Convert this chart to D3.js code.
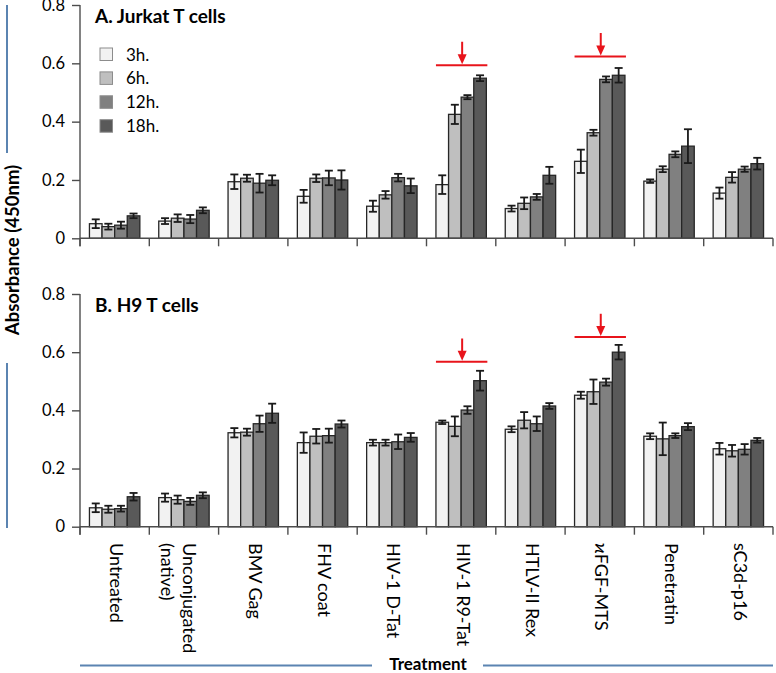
<!DOCTYPE html>
<html>
<head>
<meta charset="utf-8">
<script src="https://cdn.jsdelivr.net/npm/d3@7"></script>
<style>
  html, body { margin: 0; padding: 0; background: #fff; }
  svg { display: block; }
  text { font-family: Lato, "Open Sans", sans-serif; fill: #000; }
</style>
</head>
<body>
<svg id="chart" width="776" height="673"></svg>
<script>
// ---------------- data ----------------
const categories = ["Untreated", "Unconjugated|(native)", "BMV Gag", "FHV coat", "HIV-1 D-Tat",
  "HIV-1 R9-Tat", "HTLV-II Rex", "ϰFGF-MTS", "Penetratin", "sC3d-p16"];
const seriesNames = ["3h.", "6h.", "12h.", "18h."];
const seriesColors = ["#f2f2f2", "#bfbfbf", "#808080", "#595959"];
const yTicks = [0, 0.2, 0.4, 0.6, 0.8];

const jurkatMeans = [
  [0.050, 0.040, 0.045, 0.077],
  [0.059, 0.069, 0.066, 0.096],
  [0.194, 0.206, 0.189, 0.199],
  [0.144, 0.206, 0.207, 0.200],
  [0.110, 0.149, 0.208, 0.180],
  [0.184, 0.425, 0.484, 0.549],
  [0.102, 0.120, 0.142, 0.216],
  [0.264, 0.362, 0.545, 0.559],
  [0.196, 0.237, 0.288, 0.316],
  [0.155, 0.209, 0.237, 0.256]
];
const jurkatErrors = [
  [0.015, 0.010, 0.012, 0.008],
  [0.010, 0.013, 0.014, 0.010],
  [0.025, 0.012, 0.032, 0.017],
  [0.022, 0.013, 0.025, 0.033],
  [0.019, 0.013, 0.013, 0.025],
  [0.032, 0.033, 0.007, 0.010],
  [0.010, 0.020, 0.010, 0.029],
  [0.040, 0.010, 0.010, 0.025],
  [0.006, 0.010, 0.010, 0.058],
  [0.019, 0.018, 0.009, 0.020]
];
const h9Means = [
  [0.065, 0.060, 0.062, 0.103],
  [0.100, 0.093, 0.087, 0.108],
  [0.323, 0.325, 0.354, 0.390],
  [0.289, 0.311, 0.313, 0.353],
  [0.289, 0.289, 0.292, 0.307],
  [0.359, 0.345, 0.401, 0.502],
  [0.335, 0.366, 0.354, 0.415],
  [0.452, 0.464, 0.497, 0.600],
  [0.311, 0.302, 0.313, 0.344],
  [0.268, 0.261, 0.266, 0.297]
];
const h9Errors = [
  [0.015, 0.012, 0.010, 0.013],
  [0.014, 0.014, 0.012, 0.010],
  [0.016, 0.012, 0.028, 0.033],
  [0.035, 0.025, 0.024, 0.012],
  [0.010, 0.010, 0.025, 0.015],
  [0.006, 0.034, 0.013, 0.034],
  [0.010, 0.028, 0.025, 0.010],
  [0.012, 0.042, 0.012, 0.025],
  [0.010, 0.056, 0.008, 0.012],
  [0.020, 0.020, 0.018, 0.008]
];
// highlight markers: category, level of red line, top of arrow (absorbance units)
const jurkatMarks = [
  { category: "HIV-1 R9-Tat", line: 0.593, top: 0.674 },
  { category: "ϰFGF-MTS", line: 0.623, top: 0.704 }
];
const h9Marks = [
  { category: "HIV-1 R9-Tat", line: 0.567, top: 0.647 },
  { category: "ϰFGF-MTS", line: 0.652, top: 0.732 }
];

// ---------------- layout ----------------
const svg = d3.select("#chart");
const xLeft = 80, xRight = 773;
const x0 = d3.scaleBand().domain(categories).range([xLeft, xRight]).paddingInner(0).paddingOuter(0);
const x1 = d3.scaleBand().domain(seriesNames).range([0, x0.bandwidth()]).paddingInner(0).paddingOuter(0.75);
const axisColor = "#4d4d4d";

function drawPanel(title, means, errors, marks, yTop, yBottom, showLegend) {
  const y = d3.scaleLinear().domain([0, 0.8]).range([yBottom, yTop]);
  const g = svg.append("g");

  const groups = g.selectAll("g.cat").data(categories).join("g")
    .attr("transform", c => `translate(${x0(c)},0)`);
  groups.each(function (c, ci) {
    const gg = d3.select(this);
    const rows = seriesNames.map((s, si) => ({ s, si, v: means[ci][si], e: errors[ci][si] }));
    gg.selectAll("rect").data(rows).join("rect")
      .attr("x", d => x1(d.s))
      .attr("y", d => y(d.v))
      .attr("width", x1.bandwidth())
      .attr("height", d => y(0) - y(d.v))
      .attr("fill", d => seriesColors[d.si])
      .attr("stroke", "#262626")
      .attr("stroke-width", 1.3);
    const eb = gg.selectAll("g.err").data(rows).join("g").attr("class", "err")
      .attr("stroke", "#1a1a1a").attr("stroke-width", 1.8);
    const cxf = d => x1(d.s) + x1.bandwidth() / 2;
    eb.append("line")
      .attr("x1", cxf).attr("x2", cxf)
      .attr("y1", d => y(d.v + d.e)).attr("y2", d => y(d.v - d.e));
    eb.append("line")
      .attr("x1", d => cxf(d) - 4).attr("x2", d => cxf(d) + 4)
      .attr("y1", d => y(d.v + d.e)).attr("y2", d => y(d.v + d.e));
    eb.append("line")
      .attr("x1", d => cxf(d) - 4).attr("x2", d => cxf(d) + 4)
      .attr("y1", d => y(d.v - d.e)).attr("y2", d => y(d.v - d.e));
  });

  const yAxis = d3.axisLeft(y).tickValues(yTicks).tickSize(8).tickPadding(7)
    .tickFormat(d => d === 0 ? "0" : d3.format(".1f")(d));
  const ya = g.append("g").attr("transform", `translate(${xLeft},0)`).call(yAxis);
  ya.select(".domain").attr("stroke", axisColor).attr("stroke-width", 1.4)
    .attr("d", `M0,${yTop}V${yBottom + 8}`);
  ya.selectAll(".tick line").attr("stroke", axisColor).attr("stroke-width", 1.4);
  ya.selectAll(".tick text").style("font-size", "16.5px").style("font-family", "Lato, sans-serif").attr("fill", "#000");

  const boundaries = categories.map(c => x0(c)).concat([xRight]);
  g.append("line").attr("x1", xLeft).attr("x2", xRight).attr("y1", yBottom).attr("y2", yBottom)
    .attr("stroke", axisColor).attr("stroke-width", 1.4);
  g.selectAll("line.bt").data(boundaries).join("line").attr("class", "bt")
    .attr("x1", d => d).attr("x2", d => d).attr("y1", yBottom).attr("y2", yBottom + 8)
    .attr("stroke", axisColor).attr("stroke-width", 1.4);

  g.append("text").attr("x", 95).attr("y", yTop + 18)
    .style("font-size", "19px").style("font-weight", "bold").text(title);

  if (showLegend) {
    const lg = g.append("g").attr("transform", "translate(100,48)");
    const items = lg.selectAll("g").data(seriesNames).join("g")
      .attr("transform", (d, i) => `translate(0,${i * 23.9})`);
    items.append("rect").attr("width", 12.5).attr("height", 12.5)
      .attr("fill", (d, i) => seriesColors[i]).attr("stroke", "#8c8c8c").attr("stroke-width", 1);
    items.append("text").attr("x", 26).attr("y", 12.5).style("font-size", "17px").text(d => d);
  }

  marks.forEach(m => {
    const xs = x0(m.category) + x1(seriesNames[0]);
    const xe = x0(m.category) + x1(seriesNames[3]) + x1.bandwidth();
    const xm = (xs + xe) / 2 + 1;
    const yl = y(m.line), yt = y(m.top);
    g.append("line").attr("x1", xs).attr("x2", xe + 1).attr("y1", yl).attr("y2", yl)
      .attr("stroke", "#e8141b").attr("stroke-width", 2);
    g.append("line").attr("x1", xm).attr("x2", xm).attr("y1", yt).attr("y2", yl - 8)
      .attr("stroke", "#e8141b").attr("stroke-width", 2);
    g.append("path").attr("d", `M${xm - 4.5},${yl - 11}L${xm + 4.5},${yl - 11}L${xm},${yl - 1}Z`)
      .attr("fill", "#e8141b");
  });
  return y;
}

drawPanel("A. Jurkat T cells", jurkatMeans, jurkatErrors, jurkatMarks, 5, 238.3, true);
drawPanel("B. H9 T cells", h9Means, h9Errors, h9Marks, 294, 526.7, false);

// category labels (rotated, reading downward)
const lab = svg.append("g");
categories.forEach(c => {
  const lines = c.split("|");
  const cx = x0(c) + x0.bandwidth() / 2;
  const t = lab.append("text")
    .attr("transform", `translate(${cx - 4.5},543) rotate(90)`)
    .style("font-size", "18px");
  if (lines.length === 1) {
    t.append("tspan").attr("x", 0).attr("y", 0).text(lines[0]);
  } else {
    t.append("tspan").attr("x", 0).attr("y", -4).text(lines[0]);
    t.append("tspan").attr("x", 0).attr("y", 18).text(lines[1]);
  }
});

// y-axis title & side lines
const blue = "#5b84b1";
svg.append("text").attr("transform", "translate(18.5,250) rotate(-90)")
  .attr("text-anchor", "middle").style("font-size", "18.5px").style("font-weight", "bold")
  .text("Absorbance (450nm)");
svg.append("line").attr("x1", 7).attr("x2", 7).attr("y1", 5).attr("y2", 153)
  .attr("stroke", blue).attr("stroke-width", 2);
svg.append("line").attr("x1", 7).attr("x2", 7).attr("y1", 363).attr("y2", 528)
  .attr("stroke", blue).attr("stroke-width", 2);

// x-axis title with side lines
svg.append("text").attr("x", 428).attr("y", 670).attr("text-anchor", "middle")
  .style("font-size", "17px").style("font-weight", "bold").text("Treatment");
svg.append("line").attr("x1", 80).attr("x2", 372).attr("y1", 665.5).attr("y2", 665.5)
  .attr("stroke", blue).attr("stroke-width", 2);
svg.append("line").attr("x1", 483).attr("x2", 773).attr("y1", 665.5).attr("y2", 665.5)
  .attr("stroke", blue).attr("stroke-width", 2);
</script>
</body>
</html>
